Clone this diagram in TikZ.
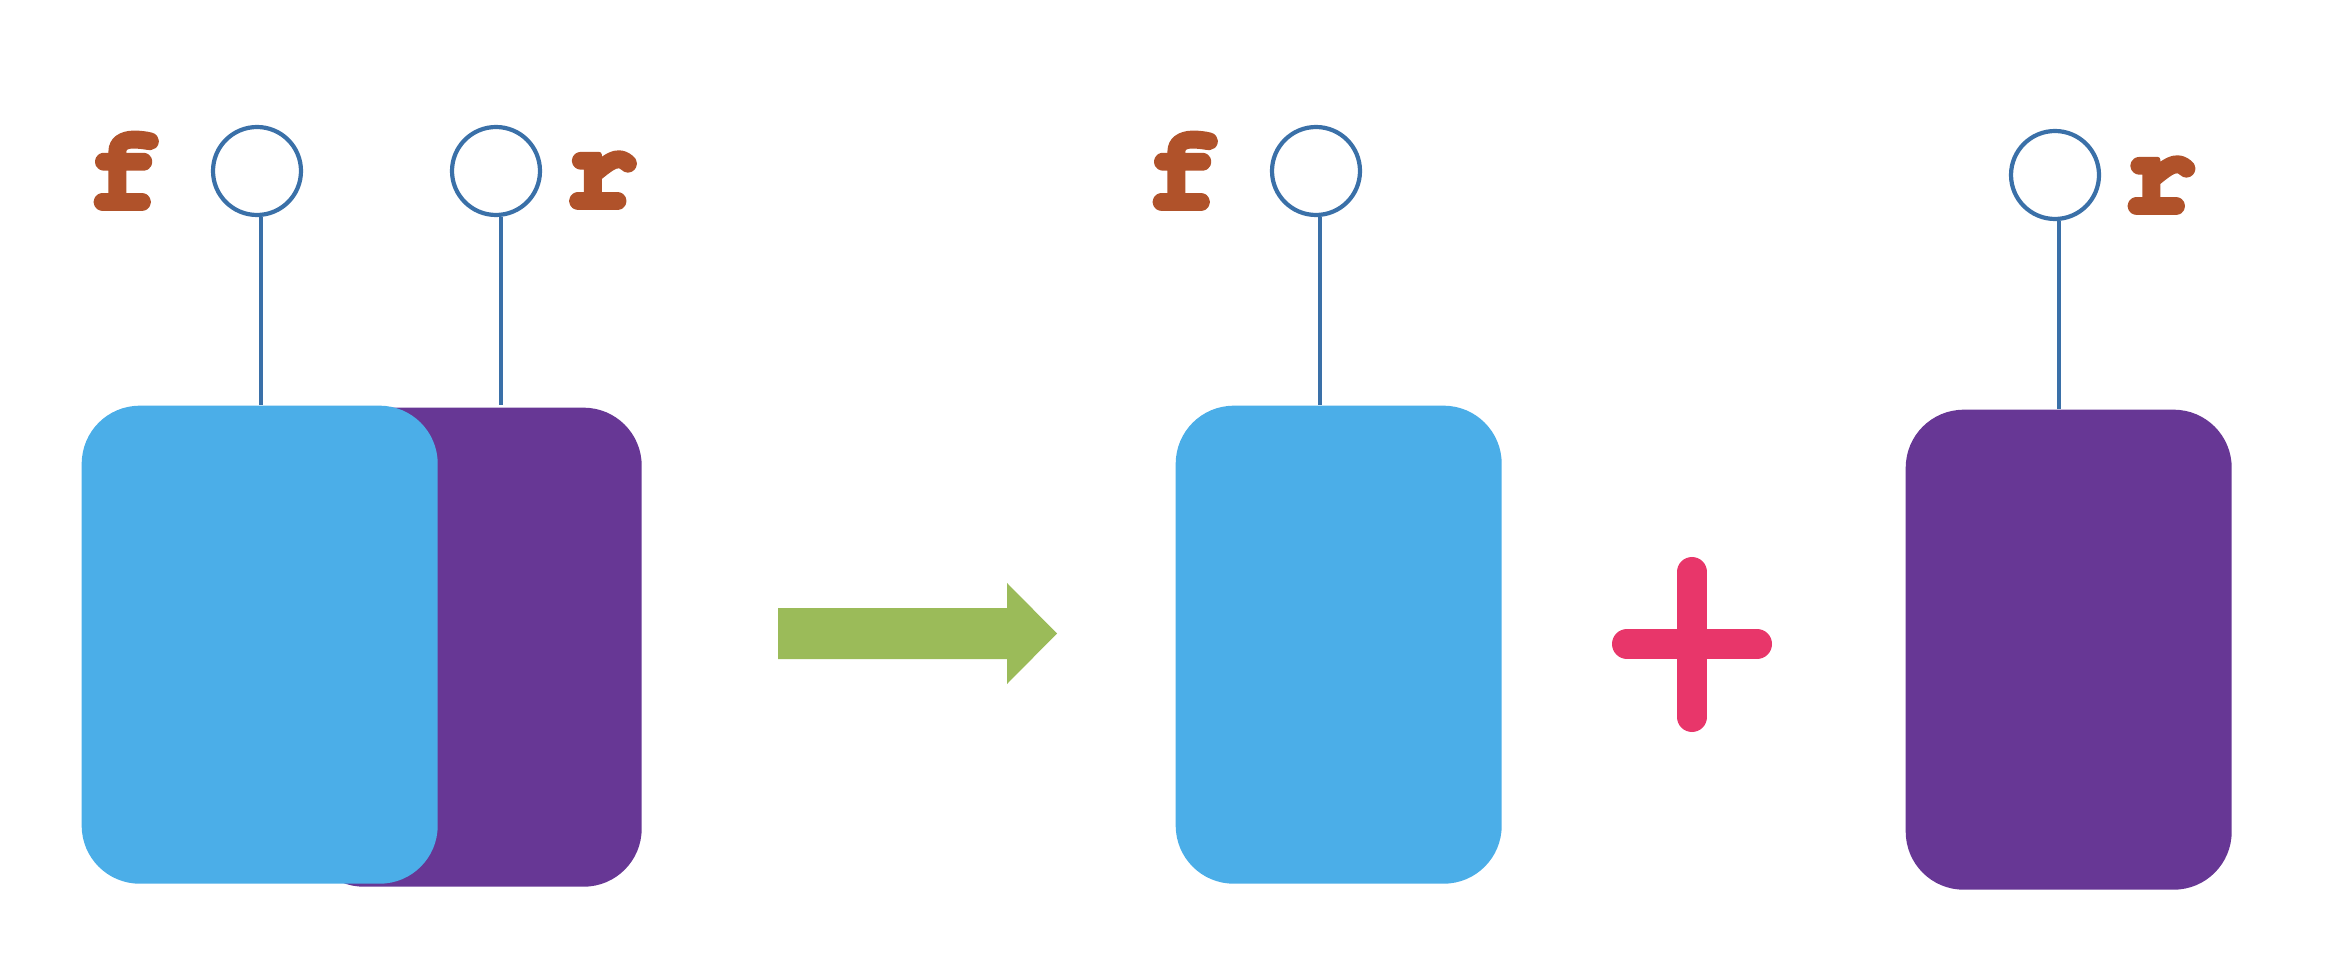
\documentclass[tikz,border=0pt]{standalone}
\usepackage[T1,TU]{fontenc}
\usepackage{fontspec}
\definecolor{cblue}{HTML}{4BAEE8}
\definecolor{cpurple}{HTML}{673795}
\definecolor{cline}{HTML}{3A70A8}
\definecolor{clabel}{HTML}{B0522A}
\definecolor{cgreen}{HTML}{9BBB59}
\definecolor{cplus}{HTML}{E8366A}
\newcommand{\labfont}{\fontencoding{T1}\fontfamily{pcr}\fontseries{b}\fontsize{34}{34}\selectfont}
\newcommand{\heavy}[1]{\special{pdf:literal direct 2 Tr 1.7 w 1 j 1 J}#1\special{pdf:literal direct 0 Tr}}
\tikzset{
  gate/.style={rectangle, rounded corners=0.58cm, inner sep=0pt, anchor=north west},
  bluebox/.style={gate, fill=cblue},
  purplebox/.style={gate, fill=cpurple},
  ring/.style={circle, draw=cline, line width=0.042cm, minimum size=0.88cm, inner sep=0pt, fill=white},
  stem/.style={draw=cline, line width=0.042cm},
  lab/.style={text=clabel, font=\labfont, anchor=base, inner sep=0pt}
}
\begin{document}
\begin{tikzpicture}
\useasboundingbox (0,0) rectangle (23.32,-9.56);
% left pair
\node[purplebox, minimum width=3.36cm, minimum height=4.79cm] (p1) at (3.05,-4.07) {};
\node[bluebox, minimum width=3.56cm, minimum height=4.78cm] (b1) at (0.81,-4.05) {};
\node[ring] (c1) at (2.57,-1.71) {};
\node[ring] (c2) at (4.96,-1.71) {};
\draw[stem] ([xshift=0.04cm]c1.south) -- ([xshift=0.04cm]c1.south |- b1.north);
\draw[stem] ([xshift=0.05cm]c2.south) -- ([xshift=0.05cm]c2.south |- b1.north);
\node[lab] (f1) at (1.235,-2.08) {\heavy{f}};
\node[lab] (r1) at (6.015,-2.07) {\heavy{r}};
% arrow
\fill[cgreen] (7.78,-6.08) -- (10.07,-6.08) -- (10.07,-5.83) -- (10.57,-6.335)
  -- (10.07,-6.84) -- (10.07,-6.59) -- (7.78,-6.59) -- cycle;
% middle
\node[bluebox, minimum width=3.26cm, minimum height=4.78cm] (b2) at (11.75,-4.05) {};
\node[ring] (c3) at (13.16,-1.71) {};
\draw[stem] ([xshift=0.04cm]c3.south) -- ([xshift=0.04cm]c3.south |- b2.north);
\node[lab] (f2) at (11.825,-2.08) {\heavy{f}};
% plus
\coordinate (pc) at (16.92,-6.44);
\draw[cplus, line width=0.30cm, line cap=round] ([xshift=-0.65cm]pc) -- ([xshift=0.65cm]pc);
\draw[cplus, line width=0.30cm, line cap=round] ([yshift=0.72cm]pc) -- ([yshift=-0.73cm]pc);
% right
\node[purplebox, minimum width=3.26cm, minimum height=4.80cm] (p2) at (19.05,-4.09) {};
\node[ring] (c4) at (20.55,-1.75) {};
\draw[stem] ([xshift=0.04cm]c4.south) -- ([xshift=0.04cm]c4.south |- p2.north);
\node[lab] (r2) at (21.60,-2.12) {\heavy{r}};
\end{tikzpicture}
\end{document}
